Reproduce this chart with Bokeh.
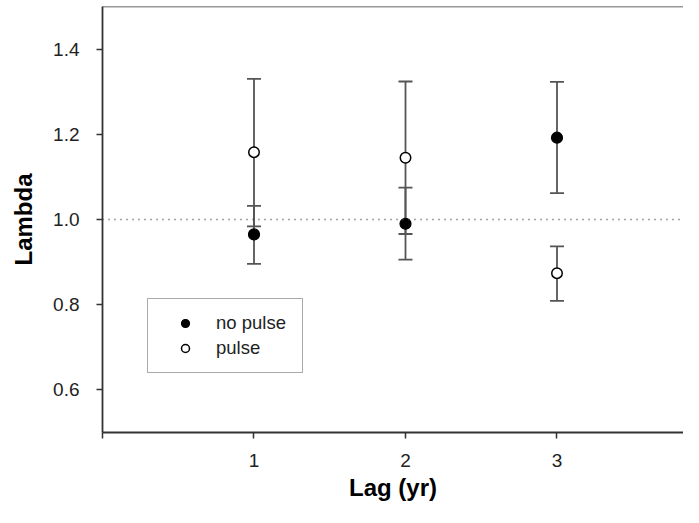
from bokeh.plotting import figure
from bokeh.models import ColumnDataSource, Whisker, TeeHead, Span, Range1d, FixedTicker
from bokeh.embed import file_html
from bokeh.resources import INLINE

# ---- data ----
lags = [1, 2, 3]
no_pulse = [0.965, 0.990, 1.192]
no_pulse_lower = [0.896, 0.906, 1.062]
no_pulse_upper = [1.032, 1.075, 1.323]
pulse = [1.158, 1.145, 0.874]
pulse_lower = [0.984, 0.966, 0.809]
pulse_upper = [1.330, 1.324, 0.937]
x_ticks = [0, 1, 2, 3]
y_ticks = [0.6, 0.8, 1.0, 1.2, 1.4]
reference_level = 1.0

FONT = "Liberation Sans"

src_np = ColumnDataSource(dict(x=lags, y=no_pulse, lo=no_pulse_lower, hi=no_pulse_upper))
src_p = ColumnDataSource(dict(x=lags, y=pulse, lo=pulse_lower, hi=pulse_upper))

p = figure(width=683, height=507, output_backend="svg", toolbar_location=None,
           x_range=Range1d(0, 3.835), y_range=Range1d(0.5, 1.5),
           min_border_left=102, min_border_right=0, min_border_top=6, min_border_bottom=75)

p.grid.visible = False
p.outline_line_color = None
p.background_fill_color = "white"
p.border_fill_color = "white"

# top frame line
p.add_layout(Span(location=p.y_range.end, dimension="width", line_color="#333333", line_width=1.6))

# reference dotted line
p.add_layout(Span(location=reference_level, dimension="width", line_color="#444444",
                  line_width=1.3, line_dash="1 5"))

# error bars
for src in (src_p, src_np):
    w = Whisker(source=src, base="x", lower="lo", upper="hi",
                line_color="#555555", line_width=1.8,
                upper_head=TeeHead(size=14, line_color="#555555", line_width=1.8),
                lower_head=TeeHead(size=14, line_color="#555555", line_width=1.8))
    p.add_layout(w)

p.scatter("x", "y", source=src_np, size=11, fill_color="black", line_color="black",
          line_width=1.2, legend_label="no pulse")
p.scatter("x", "y", source=src_p, size=10.5, fill_color="white", line_color="black",
          line_width=1.5, legend_label="pulse")

# axes
for ax in (p.xaxis[0], p.yaxis[0]):
    ax.axis_line_color = "#333333"
    ax.axis_line_width = 1.8
    ax.major_tick_line_color = "#333333"
    ax.major_tick_line_width = 1.5
    ax.major_tick_out = 6
    ax.major_tick_in = 0
    ax.minor_tick_line_color = None
    ax.major_label_text_font = FONT
    ax.major_label_text_font_size = "19px"
    ax.major_label_text_color = "#222222"
    ax.axis_label_text_font = FONT
    ax.axis_label_text_font_size = "24px"
    ax.axis_label_text_font_style = "bold"
    ax.axis_label_text_color = "black"

p.xaxis.ticker = FixedTicker(ticks=x_ticks)
p.xaxis.major_label_overrides = {0: ""}
p.yaxis.ticker = FixedTicker(ticks=y_ticks)
p.yaxis.major_label_overrides = {v: f"{v:.1f}" for v in y_ticks}
p.xaxis.axis_label = "Lag (yr)"
p.yaxis.axis_label = "Lambda"
p.xaxis.major_label_standoff = 15
p.xaxis.axis_label_standoff = 4
p.yaxis.major_label_standoff = 17
p.yaxis.axis_label_standoff = 13

# legend
lg = p.legend[0]
lg.location = (45, 59)
lg.padding = 13
lg.spacing = 3
lg.glyph_height = 20
lg.glyph_width = 48
lg.label_height = 20
lg.label_standoff = 7
lg.label_width = 73
lg.label_text_font = FONT
lg.label_text_font_size = "18.5px"
lg.label_text_color = "#222222"
lg.border_line_color = "#555555"
lg.border_line_width = 1.6
lg.background_fill_color = "white"
lg.background_fill_alpha = 1.0
lg.margin = 0

open("out.html", "w").write(file_html(p, INLINE))
